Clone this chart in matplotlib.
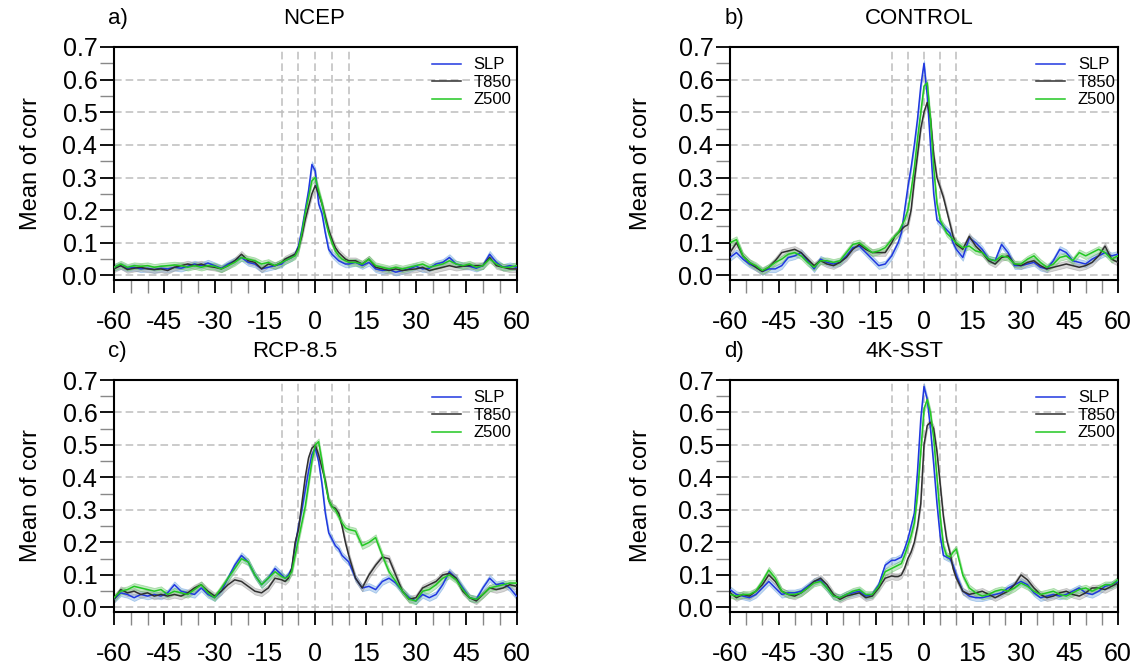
import numpy as np
import matplotlib
matplotlib.use("Agg")
import matplotlib.pyplot as plt
from matplotlib.ticker import MultipleLocator

plt.rcParams['font.family'] = ['Liberation Sans', 'DejaVu Sans']
plt.rcParams['axes.unicode_minus'] = False

# lag (days)
lag = np.concatenate([np.arange(-60, -10, 2), np.arange(-10, 11, 1), np.arange(12, 61, 2)])

#%% a) NCEP
ncep_slp = [0.025, 0.03, 0.022, 0.025, 0.02, 0.022, 0.018, 0.022, 0.02, 0.025, 0.022, 0.028, 0.035,
            0.03, 0.038, 0.03, 0.022, 0.035, 0.045, 0.055, 0.04, 0.035, 0.02, 0.025, 0.03,
            0.035, 0.045, 0.05, 0.055, 0.065, 0.09, 0.14, 0.2, 0.26, 0.34, 0.32, 0.22, 0.19, 0.13,
            0.08, 0.065, 0.055, 0.045, 0.04, 0.035, 0.035,
            0.04, 0.03, 0.04, 0.02, 0.015, 0.018, 0.01, 0.015, 0.02, 0.028, 0.02, 0.022, 0.035,
            0.04, 0.055, 0.035, 0.03, 0.028, 0.022, 0.03, 0.065, 0.04, 0.025, 0.03, 0.025]
ncep_t850 = [0.02, 0.03, 0.018, 0.022, 0.025, 0.02, 0.018, 0.02, 0.015, 0.025, 0.03, 0.035, 0.03,
             0.035, 0.028, 0.025, 0.02, 0.03, 0.045, 0.065, 0.045, 0.04, 0.02, 0.035, 0.03,
             0.04, 0.05, 0.055, 0.06, 0.065, 0.085, 0.12, 0.17, 0.21, 0.25, 0.275, 0.25, 0.22, 0.18,
             0.14, 0.11, 0.085, 0.07, 0.06, 0.05, 0.045,
             0.045, 0.035, 0.05, 0.025, 0.02, 0.015, 0.02, 0.015, 0.018, 0.02, 0.025, 0.015, 0.02,
             0.025, 0.03, 0.025, 0.028, 0.03, 0.03, 0.03, 0.055, 0.03, 0.025, 0.02, 0.02]
ncep_z500 = [0.025, 0.035, 0.025, 0.03, 0.028, 0.03, 0.025, 0.028, 0.03, 0.032, 0.03, 0.025, 0.03,
             0.025, 0.03, 0.028, 0.02, 0.03, 0.04, 0.055, 0.05, 0.045, 0.035, 0.04, 0.03,
             0.04, 0.045, 0.05, 0.055, 0.06, 0.08, 0.13, 0.19, 0.24, 0.29, 0.3, 0.26, 0.22, 0.17,
             0.13, 0.1, 0.075, 0.06, 0.05, 0.045, 0.04,
             0.04, 0.035, 0.05, 0.03, 0.025, 0.02, 0.025, 0.02, 0.025, 0.03, 0.035, 0.025, 0.03,
             0.035, 0.045, 0.035, 0.03, 0.035, 0.025, 0.03, 0.05, 0.035, 0.025, 0.025, 0.03]

#%% b) CONTROL
ctl_slp = [0.055, 0.07, 0.05, 0.035, 0.025, 0.012, 0.02, 0.02, 0.03, 0.055, 0.06, 0.07, 0.045,
           0.02, 0.05, 0.04, 0.035, 0.04, 0.06, 0.085, 0.09, 0.07, 0.05, 0.03, 0.035,
           0.06, 0.08, 0.1, 0.13, 0.2, 0.27, 0.33, 0.4, 0.48, 0.58, 0.65, 0.55, 0.4, 0.25,
           0.17, 0.16, 0.15, 0.14, 0.13, 0.1, 0.08,
           0.055, 0.115, 0.1, 0.08, 0.05, 0.045, 0.095, 0.07, 0.03, 0.03, 0.035, 0.04, 0.025,
           0.02, 0.045, 0.08, 0.07, 0.045, 0.04, 0.035, 0.05, 0.06, 0.07, 0.06, 0.065]
ctl_t850 = [0.07, 0.1, 0.06, 0.04, 0.025, 0.012, 0.025, 0.045, 0.07, 0.075, 0.08, 0.07, 0.05,
            0.03, 0.045, 0.035, 0.03, 0.04, 0.055, 0.08, 0.095, 0.08, 0.07, 0.07, 0.07,
            0.1, 0.12, 0.13, 0.14, 0.15, 0.155, 0.2, 0.29, 0.37, 0.45, 0.5, 0.53, 0.48, 0.37,
            0.3, 0.27, 0.24, 0.2, 0.16, 0.12, 0.095,
            0.08, 0.12, 0.09, 0.07, 0.045, 0.035, 0.055, 0.06, 0.035, 0.03, 0.04, 0.045, 0.03,
            0.02, 0.025, 0.03, 0.035, 0.03, 0.025, 0.03, 0.04, 0.06, 0.09, 0.05, 0.04]
ctl_z500 = [0.1, 0.11, 0.06, 0.04, 0.03, 0.015, 0.025, 0.04, 0.05, 0.065, 0.07, 0.06, 0.04,
            0.025, 0.045, 0.045, 0.04, 0.045, 0.07, 0.095, 0.1, 0.085, 0.07, 0.075, 0.085,
            0.11, 0.12, 0.13, 0.15, 0.17, 0.2, 0.26, 0.33, 0.42, 0.5, 0.58, 0.59, 0.48, 0.33,
            0.22, 0.17, 0.15, 0.13, 0.12, 0.11, 0.1,
            0.085, 0.09, 0.075, 0.07, 0.05, 0.045, 0.06, 0.055, 0.035, 0.035, 0.05, 0.06, 0.04,
            0.025, 0.035, 0.055, 0.06, 0.045, 0.07, 0.06, 0.07, 0.08, 0.07, 0.05, 0.06]

#%% c) RCP-8.5
rcp_slp = [0.025, 0.045, 0.04, 0.03, 0.04, 0.035, 0.04, 0.035, 0.045, 0.07, 0.05, 0.045, 0.04,
           0.06, 0.04, 0.03, 0.05, 0.09, 0.13, 0.16, 0.14, 0.1, 0.07, 0.09, 0.12,
           0.1, 0.09, 0.1, 0.12, 0.19, 0.25, 0.3, 0.36, 0.42, 0.47, 0.49, 0.45, 0.38, 0.29,
           0.23, 0.21, 0.19, 0.18, 0.16, 0.15, 0.14,
           0.09, 0.06, 0.065, 0.055, 0.08, 0.09, 0.075, 0.05, 0.03, 0.02, 0.04, 0.03, 0.04,
           0.07, 0.11, 0.09, 0.06, 0.03, 0.025, 0.06, 0.09, 0.07, 0.075, 0.06, 0.035]
rcp_t850 = [0.025, 0.055, 0.045, 0.05, 0.04, 0.045, 0.035, 0.04, 0.035, 0.04, 0.035, 0.045, 0.06,
            0.07, 0.05, 0.035, 0.05, 0.07, 0.085, 0.08, 0.065, 0.05, 0.045, 0.06, 0.09,
            0.085, 0.08, 0.09, 0.12, 0.2, 0.24, 0.32, 0.4, 0.46, 0.49, 0.5, 0.47, 0.43, 0.39,
            0.33, 0.31, 0.305, 0.29, 0.25, 0.2, 0.16,
            0.09, 0.06, 0.1, 0.13, 0.155, 0.15, 0.1, 0.05, 0.025, 0.03, 0.06, 0.07, 0.08,
            0.1, 0.105, 0.09, 0.05, 0.03, 0.02, 0.04, 0.06, 0.055, 0.06, 0.07, 0.065]
rcp_z500 = [0.03, 0.05, 0.055, 0.065, 0.06, 0.055, 0.05, 0.055, 0.04, 0.05, 0.045, 0.04, 0.055,
            0.07, 0.045, 0.03, 0.06, 0.09, 0.12, 0.15, 0.14, 0.1, 0.07, 0.09, 0.11,
            0.095, 0.09, 0.095, 0.11, 0.16, 0.21, 0.26, 0.31, 0.38, 0.45, 0.5, 0.51, 0.45, 0.38,
            0.33, 0.31, 0.3, 0.28, 0.26, 0.245, 0.24,
            0.235, 0.19, 0.2, 0.215, 0.16, 0.11, 0.08, 0.05, 0.025, 0.02, 0.05, 0.055, 0.07,
            0.09, 0.1, 0.085, 0.055, 0.03, 0.025, 0.04, 0.06, 0.065, 0.07, 0.075, 0.075]

#%% d) 4K-SST
sst_slp = [0.055, 0.04, 0.035, 0.03, 0.04, 0.06, 0.08, 0.06, 0.04, 0.045, 0.045, 0.05, 0.065,
           0.08, 0.085, 0.06, 0.035, 0.03, 0.04, 0.045, 0.05, 0.035, 0.04, 0.07, 0.13,
           0.145, 0.145, 0.15, 0.155, 0.18, 0.21, 0.25, 0.29, 0.42, 0.58, 0.68, 0.64, 0.55, 0.44,
           0.32, 0.22, 0.16, 0.155, 0.15, 0.13, 0.1,
           0.05, 0.035, 0.03, 0.03, 0.035, 0.04, 0.045, 0.06, 0.07, 0.08, 0.07, 0.045, 0.03,
           0.035, 0.04, 0.035, 0.04, 0.05, 0.06, 0.045, 0.04, 0.05, 0.065, 0.07, 0.08]
sst_t850 = [0.045, 0.03, 0.04, 0.035, 0.05, 0.07, 0.1, 0.08, 0.05, 0.04, 0.035, 0.045, 0.06,
            0.08, 0.09, 0.07, 0.04, 0.025, 0.035, 0.04, 0.045, 0.03, 0.035, 0.06, 0.09,
            0.097, 0.095, 0.095, 0.1, 0.12, 0.15, 0.17, 0.2, 0.25, 0.32, 0.5, 0.56, 0.57, 0.55,
            0.48, 0.38, 0.28, 0.21, 0.17, 0.12, 0.09,
            0.05, 0.04, 0.045, 0.05, 0.04, 0.03, 0.04, 0.05, 0.07, 0.1, 0.085, 0.06, 0.04,
            0.03, 0.035, 0.045, 0.05, 0.04, 0.035, 0.045, 0.06, 0.06, 0.055, 0.065, 0.075]
sst_z500 = [0.04, 0.035, 0.04, 0.04, 0.05, 0.08, 0.115, 0.09, 0.05, 0.04, 0.04, 0.045, 0.06,
            0.075, 0.08, 0.06, 0.035, 0.03, 0.04, 0.05, 0.055, 0.04, 0.04, 0.065, 0.11,
            0.12, 0.125, 0.13, 0.135, 0.16, 0.19, 0.22, 0.26, 0.35, 0.48, 0.61, 0.64, 0.6, 0.52,
            0.4, 0.28, 0.19, 0.16, 0.155, 0.17, 0.18,
            0.1, 0.06, 0.045, 0.035, 0.04, 0.05, 0.055, 0.05, 0.06, 0.075, 0.065, 0.05, 0.04,
            0.045, 0.05, 0.04, 0.035, 0.045, 0.055, 0.06, 0.05, 0.06, 0.07, 0.07, 0.085]

ci_half = 0.01  # half width of the shaded band

titles = ['NCEP', 'CONTROL', 'RCP-8.5', '4K-SST']
letters = ['a)', 'b)', 'c)', 'd)']
series_names = ['SLP', 'T850', 'Z500']
panels = [(ncep_slp, ncep_t850, ncep_z500),
          (ctl_slp, ctl_t850, ctl_z500),
          (rcp_slp, rcp_t850, rcp_z500),
          (sst_slp, sst_t850, sst_z500)]

line_cols = ['#2038e0', '#303030', '#22c822']
band_cols = ['#7fb0e6', '#a8a8a8', '#7fcf7f']
band_edge = ['#5d98d8', '#909090', '#5dbd5d']

W, H = 1133, 667
# axes boxes in pixels: left, top, right, bottom
boxes = [(114, 47, 516.5, 280), (730, 47, 1118, 280),
         (114, 380, 516.5, 612), (730, 380, 1118, 612)]
ylab_x = [42, 652]  # right edge of the rotated y label, pixels
title_x = [314, 919, 295, 905]  # centre of the panel title, pixels

fig = plt.figure(figsize=(W / 100, H / 100), dpi=100)
grid_ls = (0, (5, 2.6))

for k in range(4):
    l, t, r, b = boxes[k]
    ax = fig.add_axes([l / W, 1 - b / H, (r - l) / W, (b - t) / H])
    for s in range(3):
        y = np.array(panels[k][s])
        ax.fill_between(lag, y - ci_half, y + ci_half, facecolor=band_cols[s], alpha=0.45,
                        edgecolor=band_edge[s], lw=0.6, zorder=2)
        ax.plot(lag, y, color=line_cols[s], lw=1.1, label=series_names[s], zorder=3)

    for yy in np.arange(0, 0.7, 0.1):
        ax.axhline(yy, color='#bdbdbd', lw=1.1, ls=grid_ls, zorder=1)
    for xx in [-10, -5, 0, 5, 10]:
        ax.axvline(xx, color='#bdbdbd', lw=1.1, ls=grid_ls, zorder=1)

    ax.set_xlim(-60, 60)
    ax.set_ylim(-0.014, 0.7)
    ax.xaxis.set_major_locator(MultipleLocator(15))
    ax.xaxis.set_minor_locator(MultipleLocator(5))
    ax.set_yticks(np.arange(0, 0.71, 0.1))
    ax.set_yticklabels(['%.1f' % v for v in np.arange(0, 0.71, 0.1)])
    ax.yaxis.set_minor_locator(MultipleLocator(0.05))
    ax.tick_params(axis='both', which='both', direction='out', labelsize=18)
    ax.tick_params(axis='x', which='major', length=9.5, width=1.3, pad=12)
    ax.tick_params(axis='x', which='minor', length=9.5, width=1.0, color='#888888')
    ax.tick_params(axis='y', which='major', length=10, width=1.3, pad=2)
    ax.tick_params(axis='y', which='minor', length=10, width=1.0, color='#888888')
    for sp in ax.spines.values():
        sp.set_linewidth(1.5)

    ax.set_ylabel('Mean of corr', fontsize=17)
    ax.yaxis.set_label_coords((ylab_x[k % 2] - l) / (r - l), 0.5)

    ax.text(-0.015, 1.124, letters[k], transform=ax.transAxes, fontsize=16, va='center', ha='left')
    ax.text((title_x[k] - l) / (r - l), 1.124, titles[k], transform=ax.transAxes, fontsize=16,
            va='center', ha='center')

    ax.legend(loc='upper left', bbox_to_anchor=(0.789, 0.955), frameon=False, fontsize=12,
              handlelength=1.75, handletextpad=0.75, labelspacing=0.15, borderpad=0,
              borderaxespad=0)

fig.savefig('out.png', dpi=100)
